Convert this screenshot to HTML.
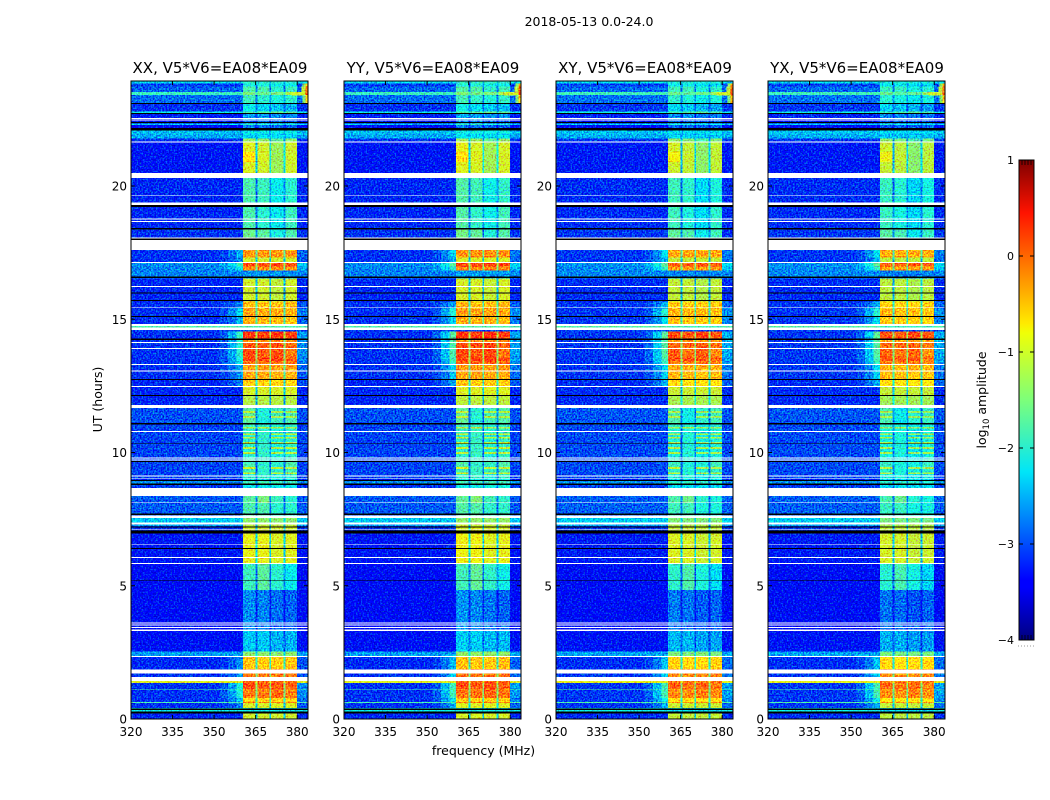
<!DOCTYPE html>
<html>
<head>
<meta charset="utf-8">
<style>
html,body{margin:0;padding:0;background:#fff;}
svg{display:block;}
text{font-family:"DejaVu Sans","Liberation Sans",sans-serif;fill:#000;}
</style>
</head>
<body>
<svg id="figure" xmlns="http://www.w3.org/2000/svg" width="1050" height="800" viewBox="0 0 1050 800">
  <defs>
    <linearGradient id="jet-gradient" x1="0" y1="1" x2="0" y2="0">
      <stop offset="0" stop-color="#00007f"/>
      <stop offset="0.11" stop-color="#0000ff"/>
      <stop offset="0.125" stop-color="#0000ff"/>
      <stop offset="0.35" stop-color="#00e5f8"/>
      <stop offset="0.5" stop-color="#7dff7a"/>
      <stop offset="0.64" stop-color="#f0ff06"/>
      <stop offset="0.66" stop-color="#ffea00"/>
      <stop offset="0.89" stop-color="#ff1300"/>
      <stop offset="1" stop-color="#7f0000"/>
    </linearGradient>
    <filter id="grain" filterUnits="objectBoundingBox" x="0" y="0" width="1" height="1" color-interpolation-filters="sRGB">
      <feTurbulence type="fractalNoise" baseFrequency="0.62" numOctaves="1" seed="4" result="n"/>
      <feColorMatrix in="n" type="matrix" values="0 0 0 0 0.5  2.4 0 0 0 -0.7  0 1.6 0 0 -0.3  0 0 0 0 1" result="g"/>
      <feComposite in="SourceGraphic" in2="g" operator="arithmetic" k1="0" k2="1" k3="0.7" k4="-0.35"/>
    </filter>
  </defs>

  <text x="589" y="26" font-size="12.5" text-anchor="middle">2018-05-13 0.0-24.0</text>
  <text x="483.5" y="755" font-size="12.5" text-anchor="middle">frequency (MHz)</text>
  <text x="102" y="399.5" font-size="12.5" text-anchor="middle" transform="rotate(-90 102 399.5)">UT (hours)</text>

  <g id="panels"></g>

  <g id="colorbar">
    <rect x="1019" y="160" width="15" height="480" fill="url(#jet-gradient)"/>
    <rect x="1019" y="160" width="15" height="480" fill="none" stroke="#000" stroke-width="1"/>
    <line x1="1018" y1="646" x2="1035" y2="646" stroke="#999" stroke-width="1" stroke-dasharray="1 2"/>
    <text x="986" y="400" font-size="12.5" text-anchor="middle" transform="rotate(-90 986 400)">log<tspan font-size="8.5" dy="3">10</tspan><tspan dy="-3"> amplitude</tspan></text>
  </g>
</svg>

<script>
// Axis ranges
const freqMin = 320;
const freqMax = 383.9;
const hourMin = 0;
const hourMax = 23.94;
const levelMin = -4;
const levelMax = 1;

// Panels
const panelTitles = ['XX, V5*V6=EA08*EA09','YY, V5*V6=EA08*EA09','XY, V5*V6=EA08*EA09','YX, V5*V6=EA08*EA09'];
const panelSubbandOffset = [0,0.04,-0.08,-0.12];
const panelShoulderOffset = [0,0.25,0.3,0.3];
const panelBackgroundOffset = [0,0,0.03,0.03];

// Tick labels
const freqTicks = [320,335,350,365,380];
const hourTicks = [0,5,10,15,20];
const colorbarTicks = [1,0,-1,-2,-3,-4];
const colorbarMinorAtTop = [0.96,0.96,0.96,0.96];

// Frequency columns (MHz)
const backgroundStart = 320;
const shoulderEdges = [352,355,358,360.5];
const shoulderFractions = [0.15,0.45,0.85];
const subbandStarts = [360.5,365.7,370.5,375.7];
const subbandEnds = [365,370,375,380];
const tailEnd = 384;

// Time bands: edges in UT hours, top to bottom
const bandEdgesHours = [
 23.94,23.85,23.74,23.53,23.41,23.08,22.80,22.74,22.48,22.35,
 22.29,22.08,21.95,21.78,21.65,21.28,20.90,20.30,19.21,18.37,
 17.60,17.32,17.11,16.98,16.83,16.53,15.67,15.40,15.10,14.83,
 14.75,14.69,14.54,14.22,14.11,13.88,13.56,13.43,13.28,13.04,
 12.72,12.46,12.12,11.67,11.56,11.48,11.37,11.29,11.05,10.96,
 10.90,10.71,10.66,10.58,10.53,10.39,10.34,10.21,10.13,10.02,
 9.94,9.76,9.61,9.46,9.38,9.25,9.19,9.01,8.93,8.78,
 8.37,8.10,7.58,7.37,7.24,6.96,5.82,4.84,3.34,2.53,
 2.36,1.88,1.58,1.43,1.35,1.13,1.10,0.79,0.64,0.60,
 0.41,0.21,0
];
const backgroundLevel = [
 -2.3,-3.1,-2.9,-1.9,-2.85,-3.15,-2.2,-3.25,-3.4,-2.4,
 -3.4,-2.45,-2.55,-3.15,-3.3,-3.3,-3.3,-3.2,-3.2,-3.15,
 -3.15,-3.15,-2.7,-2.75,-2.75,-3.2,-3.15,-3.15,-3.15,-3.15,
 -1.8,-3.1,-3.15,-3.15,-3.15,-3.15,-3.15,-3.15,-3.15,-3.15,
 -3.2,-3.2,-3.2,-3.0,-3.0,-3.0,-3.0,-3.0,-3.05,-3.05,
 -3.05,-3.05,-3.05,-3.05,-3.05,-3.05,-3.05,-3.05,-3.05,-3.05,
 -3.05,-3.05,-3.05,-3.05,-3.05,-3.05,-3.05,-3.3,-2.7,-3.1,
 -2.95,-2.95,-2.4,-2.6,-3.15,-3.3,-3.4,-3.45,-3.35,-2.6,
 -3.2,-3.15,-3.15,-0.9,-3.15,-1.8,-3.15,-3.15,-1.8,-3.15,-2.2,-3.2
];
const shoulderLevel = [
 -2.3,-3.05,-2.85,-1.8,-2.75,-3.1,-2.2,-3.2,-3.4,-2.4,
 -3.4,-2.45,-2.55,-3.15,-3.3,-3.3,-3.3,-3.2,-3.2,-3.15,
 -2.4,-2.7,-1.8,-2.1,-2.75,-3.2,-2.7,-2.1,-2.4,-2.4,
 -1.8,-3.1,-1.7,-1.8,-1.8,-1.8,-1.9,-2,-2.45,-2.55,
 -2.7,-3.1,-3.2,-3.0,-3.0,-3.0,-3.0,-3.0,-3.05,-3.05,
 -3.05,-3.05,-3.05,-3.05,-3.05,-3.05,-3.05,-3.05,-3.05,-3.05,
 -3.05,-3.05,-3.05,-3.05,-3.05,-3.05,-3.05,-3.3,-2.7,-3.1,
 -2.95,-2.95,-2.4,-2.6,-3.15,-3.3,-3.4,-3.45,-3.35,-2.6,
 -2.6,-2.5,-2.5,-0.8,-1.9,-1.8,-1.9,-2.3,-1.7,-2.7,-2.2,-3.2
];
const subband1Level = [
 -2,-2.1,-1.8,-1.5,-1.9,-2.2,-1.8,-2.6,-2.8,-2,
 -2.8,-2.2,-2.3,-1.3,-0.9,-0.7,-0.95,-1.8,-1.8,-1.6,
 -0.25,-1,0.15,-0.2,-2.65,-1,-0.45,-0.3,-0.4,-0.8,
 -1.8,-3,0.25,-0.2,0.1,0.15,0.2,0,-0.3,-0.35,
 -0.55,-0.95,-1.15,-1.7,-1.1,-1.7,-1.1,-1.7,-1.9,-1.2,
 -2,-1.1,-2,-1.1,-2,-1.1,-2,-1.1,-2,-1.1,
 -2,-1.9,-1.8,-1,-1.9,-1,-2,-2.2,-1.9,-2.2,
 -1.7,-1.8,-1.4,-1.1,-1,-0.85,-1.9,-2.7,-2.4,-1.4,
 -0.5,-0.1,-0.35,0,0.15,-0.2,-0.1,-0.6,-0.1,-0.95,-2.2,-1
];
const subband2Level = [
 -2,-2.1,-1.8,-1.6,-2,-2.3,-1.7,-2.6,-2.8,-2,
 -2.8,-2.2,-2.3,-1.4,-1,-0.95,-1,-1.9,-2,-1.7,
 -0.25,-1,0.15,-0.2,-2.65,-1,-0.5,-0.35,-0.45,-0.8,
 -1.8,-3,0.2,-0.2,0.1,0.05,0.2,0,-0.3,-0.35,
 -0.6,-0.95,-1.15,-2.1,-2,-2.1,-2,-2.1,-2,-1.1,
 -2,-1.9,-2,-1.9,-2,-1.9,-2,-1.9,-2,-1.9,
 -2,-2,-2,-1.9,-2,-1.9,-2,-2.2,-1.9,-2.2,
 -1.5,-1.8,-1.4,-1.1,-0.95,-0.85,-1.7,-2.75,-2.4,-1.4,
 -0.55,-0.1,-0.35,0,0.05,-0.2,-0.1,-0.6,-0.1,-0.95,-2.2,-1
];
const subband3Level = [
 -2,-2.2,-2,-1.5,-2.1,-2.4,-1.6,-2.7,-2.9,-2.1,
 -2.9,-2.2,-2.3,-1.7,-1.3,-1.3,-1.3,-2.2,-2.2,-2.1,
 -0.25,-1,0.2,-0.2,-2.65,-1.1,-0.5,-0.35,-0.45,-0.8,
 -1.8,-3,0.3,-0.2,0.15,0.15,0.2,0,-0.3,-0.4,
 -0.6,-0.95,-1.15,-1.9,-1.2,-1.9,-1.2,-1.9,-2.1,-1.2,
 -2.1,-1.2,-2.1,-1.2,-2.1,-1.2,-2.1,-1.2,-2.1,-1.2,
 -2.1,-2,-2,-1.1,-2,-1.1,-2.1,-2.2,-1.9,-2.2,
 -1.9,-2,-1.4,-1.1,-1,-0.95,-2,-2.85,-2.5,-1.4,
 -0.55,-0.1,-0.35,0,0.1,-0.2,0,-0.6,-0.1,-0.95,-2.2,-1
];
const subband4Level = [
 -2,-2.2,-1.9,-1.2,-2,-2.5,-1.7,-2.7,-2.9,-2.1,
 -2.9,-2.2,-2.3,-1.4,-1,-1,-1,-2,-1.9,-1.8,
 -0.25,-1,0.15,-0.2,-2.65,-1,-0.45,-0.4,-0.5,-0.8,
 -1.8,-3,0.2,-0.2,0,-0.1,0.1,-0.1,-0.3,-0.4,
 -0.6,-0.95,-1.15,-1.8,-1.2,-1.8,-1.2,-1.8,-2,-1.2,
 -2,-1.1,-2,-1.1,-2,-1.1,-2,-1.1,-2,-1.1,
 -2,-1.8,-1.8,-1.1,-1.9,-1.1,-2,-2.2,-1.9,-2.2,
 -2,-2,-1.4,-1.1,-1,-0.9,-2.2,-2.9,-2.5,-1.4,
 -0.5,-0.1,-0.35,0,0,-0.2,-0.1,-0.6,-0.1,-0.95,-2.2,-1
];

// Bright RFI corner at the top right of each panel
const hotspotStartHour = [23.85,23.74,23.53,23.41];
const hotspotEndHour = [23.74,23.53,23.41,23.10];
const hotspotStartFreq = [382,381.5,378,382];
const hotspotLevel = [-1.4,-1.1,-1.0,-1.5];
const hotspotEdgeLevel = [-0.4,0,0.2,-0.5];

// Missing data (white) and flagged data (black), UT hours
const missingStart = [22.55,22.49,21.67,20.48,19.65,19.38,18.78,18.69,18.07,17.97,17.15,16.25,15.44,14.83,14.69,14.15,13.92,13.32,13.08,12.50,11.78,10.81,9.81,9.74,9.14,9.05,8.67,8.13,7.63,7.38,7.12,6.57,6.07,5.85,3.63,3.54,3.45,3.35,2.36,1.86,1.58];
const missingEnd =   [22.51,22.45,21.63,20.30,19.62,19.29,18.74,18.65,18.03,17.60,17.11,16.21,15.42,14.75,14.60,14.11,13.88,13.28,13.04,12.46,11.67,10.77,9.77,9.70,9.10,9.02,8.37,8.11,7.55,7.30,7.09,6.54,6.04,5.82,3.59,3.50,3.41,3.31,2.34,1.70,1.43];
const flaggedStart = [23.11,22.74,22.40,22.17,19.29,18.42,18.03,16.60,16.00,15.72,15.12,14.28,12.75,12.16,11.11,10.34,9.68,8.97,8.84,7.71,7.22,7.07,6.41,5.22,0.40,0.28];
const flaggedEnd =   [23.08,22.71,22.36,22.09,19.21,18.37,17.97,16.54,15.97,15.68,15.10,14.22,12.72,12.12,11.05,10.32,9.64,8.93,8.78,7.65,7.19,6.96,6.38,5.19,0.34,0.21];

const SVGNS = 'http://www.w3.org/2000/svg';
const panelLefts = [131,344,556,768];
const panelWidth = 177;
const plotTop = 81;
const plotBottom = 719;

function xAxis(left, f){ return left + (f - freqMin) / (freqMax - freqMin) * panelWidth; }
function yAxis(h){ return plotBottom - (h - hourMin) / (hourMax - hourMin) * (plotBottom - plotTop); }

function interp(t, pts){
  if (t <= pts[0][0]) return pts[0][1];
  for (let i = 1; i < pts.length; i++){
    if (t <= pts[i][0]){
      const a = pts[i-1], b = pts[i];
      return a[1] + (b[1]-a[1]) * (t-a[0]) / (b[0]-a[0]);
    }
  }
  return pts[pts.length-1][1];
}
function colorScale(v){
  const t = Math.max(0, Math.min(1, (v - levelMin) / (levelMax - levelMin)));
  const r = interp(t, [[0,0],[0.35,0],[0.66,1],[0.89,1],[1,0.5]]);
  const g = interp(t, [[0,0],[0.125,0],[0.375,1],[0.64,1],[0.91,0],[1,0]]);
  const b = interp(t, [[0,0.5],[0.11,1],[0.34,1],[0.65,0],[1,0]]);
  return 'rgb(' + Math.round(r*255) + ',' + Math.round(g*255) + ',' + Math.round(b*255) + ')';
}
function svgEl(tag, attrs){
  const el = document.createElementNS(SVGNS, tag);
  for (const k in attrs) el.setAttribute(k, attrs[k]);
  return el;
}
function addCell(parent, left, f0, f1, h0, h1, level){
  const x0 = xAxis(left, f0), x1 = Math.min(xAxis(left, f1), left + panelWidth);
  const y0 = yAxis(h0), y1 = yAxis(h1);
  const cell = svgEl('rect', {x:x0.toFixed(2), y:y0.toFixed(2), width:(x1-x0).toFixed(2), height:(y1-y0+0.3).toFixed(2), fill:colorScale(level)});
  
  
  parent.appendChild(cell);
}
function addStrip(parent, left, h0, h1, color, name){
  const y0 = yAxis(h0), y1 = yAxis(h1);
  const strip = svgEl('rect', {x:left, y:y0.toFixed(2), width:panelWidth, height:Math.max(y1-y0,0.7).toFixed(2), fill:color});
  
  
  parent.appendChild(strip);
}
function gapDrop(s){ return s > -1.2 ? 1.4 : (s > -2.1 ? 0.9 : 0.45); }

const panelsRoot = document.getElementById('panels');
const subbandLevels = [subband1Level, subband2Level, subband3Level, subband4Level];

panelTitles.forEach(function(title, p){
  const left = panelLefts[p];
  const panel = svgEl('g', {});
  
  

  const heat = svgEl('g', {filter:'url(#grain)', 'shape-rendering':'crispEdges'});
  
  

  for (let b = 0; b < backgroundLevel.length; b++){
    const h0 = bandEdgesHours[b], h1 = bandEdgesHours[b+1];
    const bg = backgroundLevel[b] + panelBackgroundOffset[p];
    const rawSh = shoulderLevel[b];
    const sh = rawSh > backgroundLevel[b] + 0.2 ? rawSh + panelShoulderOffset[p] : bg;
    addCell(heat, left, backgroundStart, shoulderEdges[0], h0, h1, bg);
    for (let s = 0; s < shoulderFractions.length; s++){
      addCell(heat, left, shoulderEdges[s], shoulderEdges[s+1], h0, h1, bg + (sh - bg) * shoulderFractions[s]);
    }
    const levels = subbandLevels.map(function(arr){ return arr[b] > -2.9 ? arr[b] + panelSubbandOffset[p] : arr[b]; });
    for (let s = 0; s < levels.length; s++){
      addCell(heat, left, subbandStarts[s], subbandEnds[s], h0, h1, levels[s]);
      if (s < levels.length - 1){
        const low = Math.min(levels[s], levels[s+1]);
        const gap = Math.max(bg, low - gapDrop(low));
        addCell(heat, left, subbandEnds[s], subbandStarts[s+1], h0, h1, gap);
      }
    }
    addCell(heat, left, subbandEnds[3], tailEnd, h0, h1, bg + (sh - bg) * 0.35);
  }
  hotspotStartHour.forEach(function(h0, i){
    addCell(heat, left, hotspotStartFreq[i], 383, h0, hotspotEndHour[i], hotspotLevel[i]);
    addCell(heat, left, 383, tailEnd, h0, hotspotEndHour[i], hotspotEdgeLevel[i]);
  });
  panel.appendChild(heat);

  const strips = svgEl('g', {'shape-rendering':'crispEdges'});
  
  
  flaggedStart.forEach(function(h0, i){ addStrip(strips, left, h0, flaggedEnd[i], '#000', 'flagged-row'); });
  missingStart.forEach(function(h0, i){ addStrip(strips, left, h0, missingEnd[i], '#fff', 'missing-row'); });
  panel.appendChild(strips);

  const frame = svgEl('rect', {x:left, y:plotTop, width:panelWidth, height:plotBottom-plotTop, fill:'none', stroke:'#000', 'stroke-width':1});
  
  
  panel.appendChild(frame);

  freqTicks.forEach(function(f){
    const x = xAxis(left, f);
    [[plotBottom, plotBottom-4],[plotTop, plotTop+4]].forEach(function(pair){
      const t = svgEl('line', {x1:x, x2:x, y1:pair[0], y2:pair[1], stroke:'#000', 'stroke-width':1});
      
      
      panel.appendChild(t);
    });
    const label = svgEl('text', {x:x, y:736, 'font-size':12, 'text-anchor':'middle'});
    
    
    label.textContent = f;
    panel.appendChild(label);
  });

  hourTicks.forEach(function(h){
    const y = yAxis(h);
    [[left, left+4],[left+panelWidth, left+panelWidth-4]].forEach(function(pair){
      const t = svgEl('line', {x1:pair[0], x2:pair[1], y1:y, y2:y, stroke:'#000', 'stroke-width':1});
      
      
      panel.appendChild(t);
    });
    const label = svgEl('text', {x:left-4, y:y+4.5, 'font-size':12, 'text-anchor':'end'});
    
    
    label.textContent = h;
    panel.appendChild(label);
  });

  const titleEl = svgEl('text', {x:left+panelWidth/2+0.5, y:73, 'font-size':15, 'text-anchor':'middle'});
  
  
  titleEl.textContent = title;
  panel.appendChild(titleEl);

  panelsRoot.appendChild(panel);
});

// Colorbar ticks
const colorbarGroup = document.getElementById('colorbar');
function cbY(v){ return 640 - (v - levelMin) / (levelMax - levelMin) * 480; }
colorbarTicks.forEach(function(v){
  const y = cbY(v);
  [[1019,1023],[1034,1030]].forEach(function(pair){
    const t = svgEl('line', {x1:pair[0], x2:pair[1], y1:y, y2:y, stroke:'#000', 'stroke-width':1});
    
    
    colorbarGroup.appendChild(t);
  });
  const label = svgEl('text', {x:1014, y:y+4, 'font-size':11, 'text-anchor':'end'});
  
  
  label.textContent = String(v).replace('-', '\u2212');
  colorbarGroup.appendChild(label);
});
colorbarMinorAtTop.forEach(function(v, i){
  const x = 1022 + i * 3;
  [[160,165],[640,635]].forEach(function(pair){
    const t = svgEl('line', {x1:x, x2:x, y1:pair[0], y2:pair[1], stroke:'#000', 'stroke-width':0.8});
    
    
    colorbarGroup.appendChild(t);
  });
});
</script>
</body>
</html>
